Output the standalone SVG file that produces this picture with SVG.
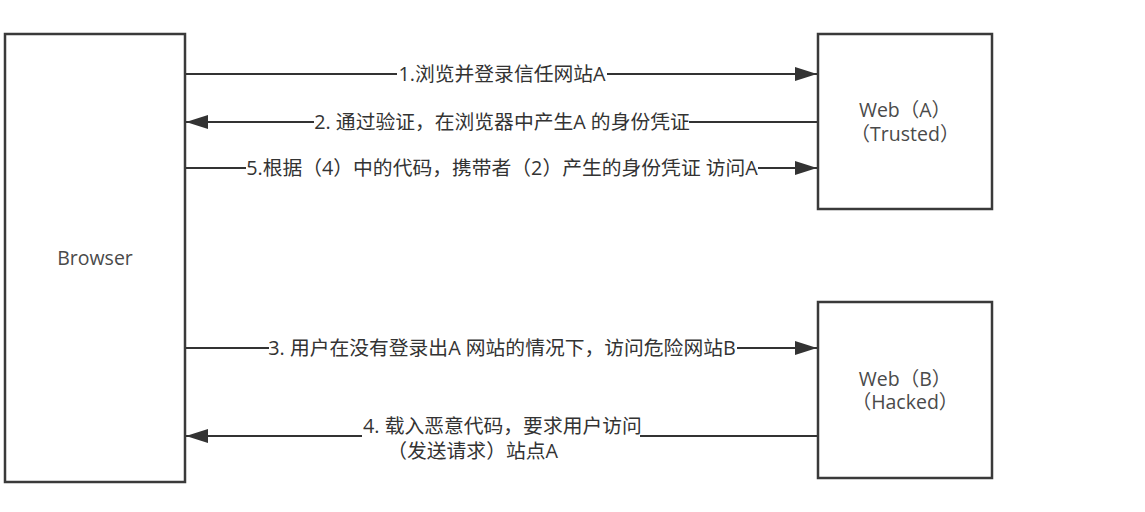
<svg xmlns="http://www.w3.org/2000/svg" width="1145" height="512" viewBox="0 0 1145 512">
<style>
.box{fill:#fff;stroke:#3a3a3a;stroke-width:2.5}
.ln{stroke:#333;stroke-width:2;fill:none}
.lbl{font-family:"Open Sans","Noto Sans CJK SC",sans-serif;font-size:19.8px;fill:#333}
.nt{font-family:"Open Sans","Noto Sans CJK SC",sans-serif;font-size:19.5px;fill:#4a4a4a;text-anchor:middle}
.mid{text-anchor:middle}
</style>
<defs>
<marker id="ah" viewBox="0 0 22 14" refX="22" refY="7" markerWidth="22" markerHeight="14" markerUnits="userSpaceOnUse" orient="auto">
<path d="M0,0 L22,7 L0,14 Z" fill="#333"/>
</marker>
</defs>
<rect width="1145" height="512" fill="#fff"/>
<g id="browser">
<rect class="box" x="5" y="34" width="180" height="448"/>
<text class="nt" x="95" y="265">Browser</text>
</g>
<g id="webA">
<rect class="box" x="818" y="34" width="174" height="175"/>
<text class="nt" x="905" y="117">Web（A）</text>
<text class="nt" x="905" y="141">（Trusted）</text>
</g>
<g id="webB">
<rect class="box" x="818" y="302" width="174" height="176"/>
<text class="nt" x="905" y="386">Web（B）</text>
<text class="nt" x="905" y="409">（Hacked）</text>
</g>
<g id="connectors">
<line class="ln" x1="186" y1="74" x2="397" y2="74"/>
<line class="ln" x1="607" y1="74" x2="817" y2="74" marker-end="url(#ah)"/>
<text class="lbl mid" x="502" y="81">1.浏览并登录信任网站A</text>

<line class="ln" x1="817" y1="122" x2="689" y2="122"/>
<line class="ln" x1="314" y1="122" x2="186" y2="122" marker-end="url(#ah)"/>
<text class="lbl mid" x="502" y="129">2. 通过验证，在浏览器中产生A 的身份凭证</text>

<line class="ln" x1="186" y1="168" x2="246" y2="168"/>
<line class="ln" x1="758" y1="168" x2="817" y2="168" marker-end="url(#ah)"/>
<text class="lbl mid" x="502" y="175">5.根据（4）中的代码，携带者（2）产生的身份凭证 访问A</text>

<line class="ln" x1="186" y1="348" x2="269" y2="348"/>
<line class="ln" x1="737" y1="348" x2="817" y2="348" marker-end="url(#ah)"/>
<text class="lbl mid" x="502" y="355">3. 用户在没有登录出A 网站的情况下，访问危险网站B</text>

<line class="ln" x1="817" y1="436" x2="640" y2="436"/>
<line class="ln" x1="362" y1="436" x2="186" y2="436" marker-end="url(#ah)"/>
<text class="lbl" x="363" y="433">4. 载入恶意代码，要求用户访问</text>
<text class="lbl" x="558" y="458" text-anchor="end">（发送请求）站点A</text>
</g>
</svg>
